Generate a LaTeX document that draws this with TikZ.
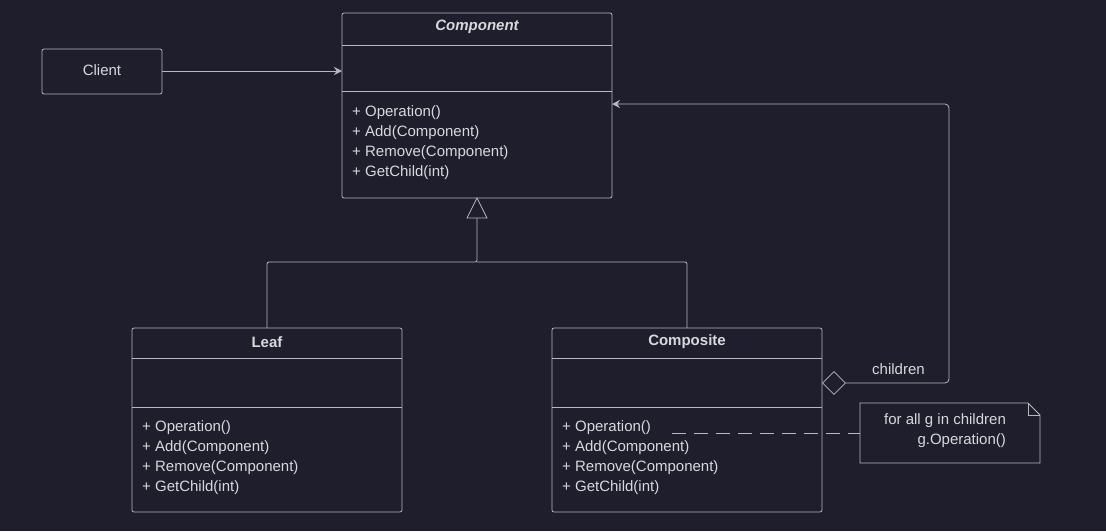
\documentclass[tikz,border=0pt]{standalone}
\usepackage{fontspec}
\setmainfont{Liberation Sans}
\usetikzlibrary{positioning,arrows.meta,shapes.geometric}
\definecolor{bg}{HTML}{1E1E2C}
\definecolor{ink}{HTML}{B8B8C0}
\definecolor{txt}{HTML}{D8D8DC}
\tikzset{
  box/.style={draw=ink,rounded corners=2pt,line width=0.8pt},
  sep/.style={draw=ink,line width=0.8pt},
  label/.style={text=txt,font=\fontsize{15}{20}\selectfont,inner sep=0pt},
  member/.style={label,anchor=west,align=left},
}
\begin{document}
\begin{tikzpicture}[x=1pt,y=-1pt]
\fill[bg] (0,0) rectangle (1106,531);
\useasboundingbox (0,0) rectangle (1106,531);
% client
\draw[box] (42,49) rectangle (162,94);
\node[label] (client) at (102,70) {Client};
% component
\draw[box] (342,13) rectangle (612,198);
\draw[sep] (342,45) -- (612,45);
\draw[sep] (342,91) -- (612,91);
\node[label,font=\fontsize{15}{20}\selectfont\itshape\bfseries] (comp) at (477,27) {Component};
\node[member] (compops) at (352,143) {+ Operation()\\+ Add(Component)\\+ Remove(Component)\\+ GetChild(int)};
% leaf
\draw[box] (132,328) rectangle (402,512);
\draw[sep] (132,358) -- (402,358);
\draw[sep] (132,407) -- (402,407);
\node[label,font=\fontsize{15}{20}\selectfont\bfseries] (leaf) at (267,342) {Leaf};
\node[member] (leafops) at (142,458) {+ Operation()\\+ Add(Component)\\+ Remove(Component)\\+ GetChild(int)};
% composite
\draw[box] (552,328) rectangle (822,512);
\draw[sep] (552,358) -- (822,358);
\draw[sep] (552,407) -- (822,407);
\node[label,font=\fontsize{15}{20}\selectfont\bfseries] (composite) at (687,342) {Composite};
\node[member] (compositeops) at (562,458) {+ Operation()\\+ Add(Component)\\+ Remove(Component)\\+ GetChild(int)};
% note
\draw[sep] (860,403) -- (1028,403) -- (1040,415) -- (1040,463) -- (860,463) -- cycle;
\draw[sep] (1028,403) -- (1028,415) -- (1040,415);
\node[label,align=right] (note) at (945,431) {for all g in children\\g.Operation()};
% connectors
\coordinate (clientR) at (162,71);
\coordinate (compL) at (342,71);
\draw[sep,-{Stealth[length=8pt,width=8pt]}] (clientR) -- (compL);
\coordinate (apex) at (477,198);
\coordinate (base) at (477,218);
\draw[sep,fill=bg] (apex) -- (467,218) -- (487,218) -- cycle;
\draw[sep,rounded corners=2pt] (base) -- (477,262) -- (267,262) -- (267,328);
\draw[sep,rounded corners=2pt] (477,262) -- (687,262) -- (687,328);
\node[draw=ink,line width=0.8pt,fill=bg,diamond,minimum width=23pt,minimum height=23pt,inner sep=0pt] (agg) at (834,383) {};
\coordinate (compR) at (612,104);
\draw[sep,rounded corners=4pt,-{Stealth[length=8pt,width=8pt]}] (agg.east) -- (949,383) -- (949,104) -- (compR);
\node[label,anchor=south west] (children) at (872,375) {children};
\coordinate (opEnd) at (672,433);
\draw[sep,dash pattern=on 14pt off 8pt] (opEnd) -- (860,433);
\end{tikzpicture}
\end{document}
